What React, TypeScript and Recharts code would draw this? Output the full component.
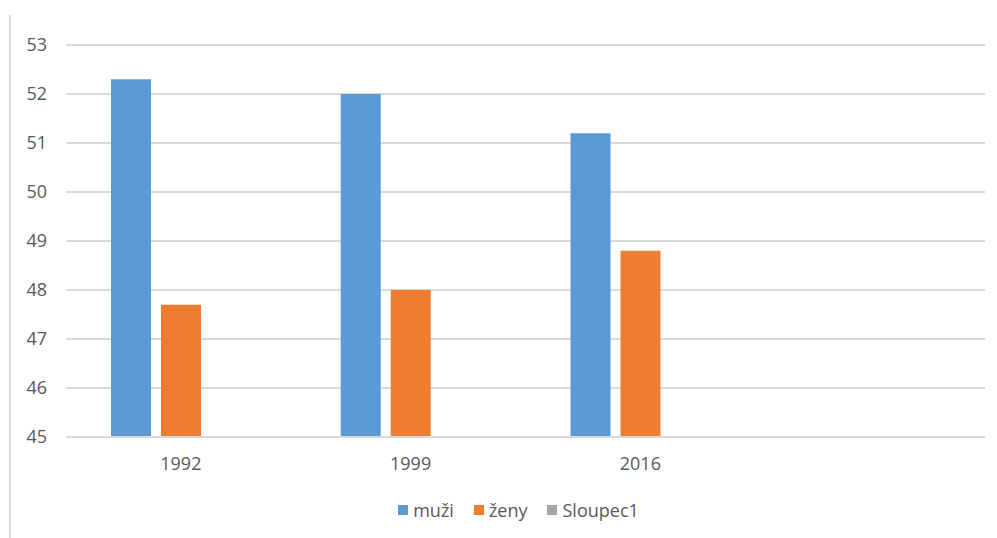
import { Bar, BarChart, CartesianGrid, Legend, XAxis, YAxis } from "recharts";

const years = ["1992", "1999", "2016", ""];
const muzi = [52.3, 52.0, 51.2, null];
const zeny = [47.7, 48.0, 48.8, null];
const sloupec1: (number | null)[] = [null, null, null, null];
const yTicks = [45, 46, 47, 48, 49, 50, 51, 52, 53];
const seriesOrder = ["muži", "ženy", "Sloupec1"];

const data = years.map((year, i) => ({
  year,
  muzi: muzi[i],
  zeny: zeny[i],
  sloupec1: sloupec1[i],
}));

const textColor = "#595959";
const font = "'Open Sans', sans-serif";

function LegendContent({ payload }: any) {
  const items = [...(payload ?? [])].sort(
    (a: any, b: any) => seriesOrder.indexOf(a.value) - seriesOrder.indexOf(b.value)
  );
  return (
    <div style={{ display: "flex", justifyContent: "center", fontFamily: font, fontSize: 18, color: textColor }}>
      {items.map((p: any) => (
        <div key={p.value} style={{ display: "flex", alignItems: "center", marginRight: 20 }}>
          <span style={{ width: 10, height: 10, background: p.color, marginRight: 5, display: "inline-block" }} />
          <span>{p.value}</span>
        </div>
      ))}
    </div>
  );
}

export default function App() {
  return (
    <div style={{ position: "absolute", left: 0, top: 0, width: 997, height: 538, background: "#fff" }}>
      <div style={{ position: "absolute", left: 9, top: 15, width: 2, height: 523, background: "#d9d9d9" }} />
      <BarChart
        width={997}
        height={538}
        data={data}
        margin={{ top: 45, right: 12, bottom: 16, left: 0 }}
        barSize={40}
        barGap={10}
      >
        <CartesianGrid vertical={false} stroke="#d9d9d9" strokeWidth={2} />
        <XAxis
          dataKey="year"
          axisLine={{ stroke: "#d9d9d9", strokeWidth: 2 }}
          tickLine={false}
          tick={{ fill: textColor, fontSize: 18, fontFamily: font }}
          tickMargin={14}
          height={61}
        />
        <YAxis
          domain={[45, 53]}
          ticks={yTicks}
          axisLine={false}
          tickLine={false}
          tick={{ fill: textColor, fontSize: 18, fontFamily: font }}
          tickMargin={13}
          width={66}
          allowDataOverflow
        />
        <Legend verticalAlign="bottom" height={24} content={<LegendContent />} wrapperStyle={{ left: 30, width: 997 }} />
        <Bar dataKey="muzi" name="muži" fill="#5b9bd5" isAnimationActive={false} />
        <Bar dataKey="zeny" name="ženy" fill="#ed7d31" isAnimationActive={false} />
        <Bar dataKey="sloupec1" name="Sloupec1" fill="#a5a5a5" isAnimationActive={false} />
      </BarChart>
    </div>
  );
}
